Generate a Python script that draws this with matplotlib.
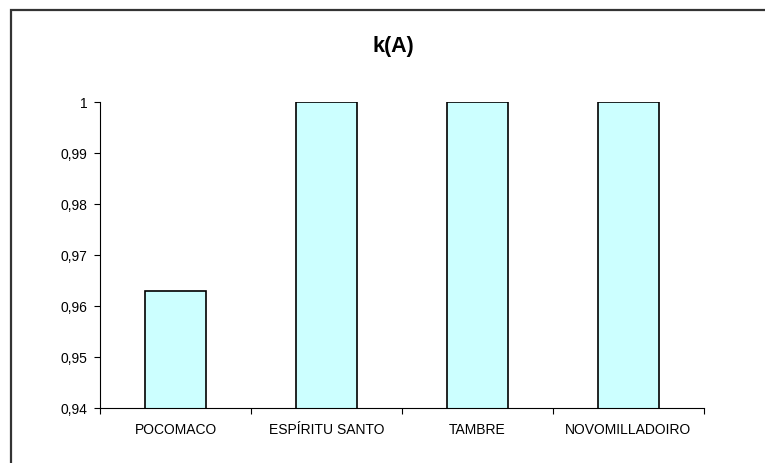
import matplotlib.pyplot as plt
from matplotlib.patches import Rectangle
from matplotlib.ticker import FuncFormatter, FixedLocator
import numpy as np

plt.rcParams['font.family'] = ['Liberation Sans', 'DejaVu Sans']

stations = ['POCOMACO', 'ESPÍRITU SANTO', 'TAMBRE', 'NOVOMILLADOIRO']
k_a = [0.963, 1.0, 1.0, 1.0]
y_ticks = [0.94, 0.95, 0.96, 0.97, 0.98, 0.99, 1.0]

fig = plt.figure(figsize=(7.65, 4.64), dpi=100)

# chart area frame (cropped on right/bottom in the original)
fig.patches.append(Rectangle((11/765, -0.1), 1.2, 1 - 11/464 + 0.1,
                             transform=fig.transFigure, fill=False,
                             edgecolor='#333333', linewidth=1.6))

ax = fig.add_axes([100/765, 1 - 409/464, 604/765, 306/464])
x = np.arange(len(stations))
ax.bar(x, k_a, width=0.4, color='#CCFFFF', edgecolor='black', linewidth=1.2,
       bottom=0)
ax.set_ylim(0.94, 1.0)
ax.set_xlim(-0.5, len(stations) - 0.5)

ax.set_yticks(y_ticks)
ax.yaxis.set_major_formatter(FuncFormatter(
    lambda v, p: ('%g' % round(v, 2)).replace('.', ',')))
ax.set_xticks(x)
ax.set_xticklabels(stations)
ax.xaxis.set_minor_locator(FixedLocator(np.arange(-0.5, len(stations), 1.0)))
ax.tick_params(axis='x', which='major', length=0, pad=10, labelsize=10)
ax.tick_params(axis='x', which='minor', length=4, width=0.8)
ax.tick_params(axis='y', length=4, width=0.8, pad=5, labelsize=10)

for s in ['top', 'right']:
    ax.spines[s].set_visible(False)
for s in ['left', 'bottom']:
    ax.spines[s].set_linewidth(0.8)

fig.text(393/765, 1 - 47/464, 'k(A)', ha='center', va='center',
         fontsize=15.5, fontweight='bold')

fig.savefig('out.png', dpi=100)
